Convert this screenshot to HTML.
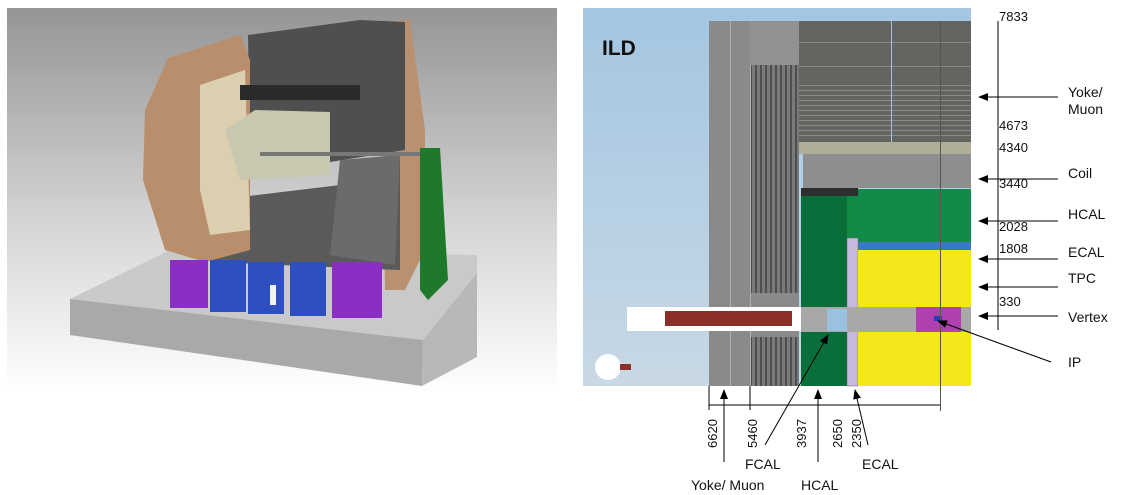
<!DOCTYPE html>
<html><head><meta charset="utf-8"><style>
html,body{margin:0;padding:0;background:#fff;}
svg{display:block;font-family:"Liberation Sans",sans-serif;}
</style></head><body>
<svg width="1121" height="495" viewBox="0 0 1121 495">
<defs>
<linearGradient id="bg" x1="0" y1="0" x2="0" y2="1"><stop offset="0" stop-color="#959595"/><stop offset="0.55" stop-color="#d4d4d4"/><stop offset="1" stop-color="#ffffff"/></linearGradient>
<linearGradient id="sky" x1="0" y1="0" x2="0" y2="1"><stop offset="0" stop-color="#a4c6e2"/><stop offset="1" stop-color="#c8d8e4"/></linearGradient>
<pattern id="vstripe" width="5" height="10" patternUnits="userSpaceOnUse"><rect width="5" height="10" fill="#7a7a7a"/><rect width="2" height="10" fill="#4e4e4e"/></pattern>
<pattern id="hstripe" width="10" height="5" patternUnits="userSpaceOnUse"><rect width="10" height="5" fill="#646461"/><rect width="10" height="1" fill="#8a8a86"/></pattern>
<marker id="ar" markerWidth="10" markerHeight="8" refX="9" refY="4" orient="auto"><path d="M0,0 L10,4 L0,8z" fill="#000"/></marker>
</defs>

<g>
<rect x="7" y="8" width="550" height="385" fill="url(#bg)"/>
<polygon points="70,299 170,250 477,255 477,273 423,340" fill="#c9c9c9"/>
<polygon points="70,299 423,340 422,386 70,335" fill="#a9a9a9"/>
<polygon points="423,340 477,273 477,357 422,386" fill="#b8b8b8"/>
<polygon points="380,22 410,20 425,130 425,250 405,290 385,290" fill="#b99070"/>
<polygon points="248,35 360,20 405,22 405,150 330,162 250,150" fill="#4f4f4f"/>
<polygon points="215,200 340,185 400,160 400,270 210,262" fill="#5a5a5a"/>
<polygon points="340,160 400,155 395,265 330,255" fill="#6b6b6b"/>
<polygon points="168,58 240,35 250,60 250,250 205,262 165,250 143,180 145,110" fill="#b88e6c"/>
<polygon points="200,85 245,70 250,230 210,235 200,190" fill="#dccfb0"/>
<polygon points="225,130 255,110 330,112 330,175 240,180" fill="#c8c8b0"/>
<rect x="240" y="85" width="120" height="15" fill="#2a2a2a"/>
<rect x="260" y="152" width="180" height="4" fill="#777"/>
<polygon points="420,148 440,148 448,280 428,300 420,290" fill="#1e7a2a"/>
<rect x="170" y="260" width="38" height="48" fill="#8a2fc4"/>
<rect x="210" y="260" width="36" height="52" fill="#2d4fc0"/>
<rect x="248" y="262" width="36" height="52" fill="#2d4fc0"/>
<rect x="290" y="262" width="36" height="54" fill="#2d4fc0"/>
<rect x="332" y="262" width="50" height="56" fill="#8a2fc4"/>
<rect x="270" y="285" width="6" height="20" fill="#f2f2f2"/>
</g>

<g>
<rect x="583" y="8" width="388" height="378" fill="url(#sky)"/>
<text x="602" y="55" font-size="21" font-weight="bold" fill="#111">ILD</text>
<rect x="709" y="21" width="90" height="365" fill="#8a8a8a"/>
<rect x="730" y="21" width="1" height="365" fill="#b0b0b0"/><rect x="750" y="21" width="1" height="365" fill="#b0b0b0"/>
<rect x="750" y="21" width="49" height="44" fill="#929292"/>
<rect x="751" y="65" width="48" height="228" fill="url(#vstripe)"/>
<rect x="751" y="337" width="48" height="49" fill="url(#vstripe)"/>
<rect x="799" y="21" width="172" height="121" fill="#646461"/>
<rect x="799" y="82" width="172" height="57" fill="url(#hstripe)"/>
<rect x="799" y="42" width="172" height="1" fill="#8a8a86"/><rect x="799" y="66" width="172" height="1" fill="#8a8a86"/>
<rect x="891" y="21" width="1" height="132" fill="#9cc4e6"/>
<rect x="799" y="142" width="172" height="12" fill="#b0ae98"/>
<rect x="803" y="154" width="168" height="34" fill="#8e8e8e"/>
<rect x="801" y="188" width="57" height="8" fill="#2e2e2e"/>
<rect x="801" y="196" width="46" height="190" fill="#0a6e3a"/>
<rect x="847" y="196" width="11" height="42" fill="#118a45"/>
<rect x="858" y="189" width="113" height="53" fill="#128a48"/>
<rect x="858" y="242" width="113" height="8" fill="#3a78c8"/>
<rect x="847" y="238" width="11" height="148" fill="#c8b8e0" stroke="#666" stroke-width="0.5"/>
<rect x="858" y="250" width="113" height="57" fill="#f4e81a"/>
<rect x="858" y="332" width="113" height="54" fill="#f4e81a"/>
<rect x="627" y="307" width="174" height="24" fill="#ffffff"/>
<rect x="665" y="311" width="127" height="15" fill="#8a3028"/>
<rect x="801" y="307" width="170" height="25" fill="#a8a8a8"/>
<rect x="827" y="309" width="20" height="22" fill="#9cc0e0"/>
<rect x="916" y="307" width="45" height="25" fill="#b040b0"/>
<rect x="934" y="316" width="8" height="5" fill="#2040c0"/>
<rect x="940" y="21" width="1" height="390" fill="#555"/>
<circle cx="608" cy="367" r="13" fill="#fff"/>
<rect x="620" y="364" width="11" height="6" fill="#8a3028"/>

<g stroke="#000" stroke-width="1" fill="none">
<line x1="998" y1="21" x2="998" y2="330"/>
<line x1="709" y1="386" x2="709" y2="410"/><line x1="750" y1="386" x2="750" y2="410"/>
<line x1="709" y1="405" x2="940" y2="405"/>
<line x1="1058" y1="97" x2="979" y2="97" marker-end="url(#ar)"/>
<line x1="1058" y1="179" x2="979" y2="179" marker-end="url(#ar)"/>
<line x1="1058" y1="221" x2="979" y2="221" marker-end="url(#ar)"/>
<line x1="1058" y1="259" x2="979" y2="259" marker-end="url(#ar)"/>
<line x1="1058" y1="287" x2="979" y2="287" marker-end="url(#ar)"/>
<line x1="1058" y1="316" x2="979" y2="316" marker-end="url(#ar)"/>
<line x1="1051" y1="362" x2="938" y2="321" marker-end="url(#ar)"/>
<line x1="724" y1="462" x2="724" y2="390" marker-end="url(#ar)"/>
<line x1="765" y1="445" x2="828" y2="335" marker-end="url(#ar)"/>
<line x1="818" y1="462" x2="818" y2="390" marker-end="url(#ar)"/>
<line x1="868" y1="445" x2="855" y2="390" marker-end="url(#ar)"/>
</g>
<g font-size="14" fill="#111">
<text x="1068" y="97">Yoke/</text>
<text x="1068" y="114">Muon</text>
<text x="1068" y="178">Coil</text>
<text x="1068" y="219">HCAL</text>
<text x="1068" y="257">ECAL</text>
<text x="1068" y="283">TPC</text>
<text x="1068" y="322">Vertex</text>
<text x="1068" y="367">IP</text>
<text x="745" y="469">FCAL</text>
<text x="862" y="469">ECAL</text>
<text x="691" y="490">Yoke/ Muon</text>
<text x="801" y="490">HCAL</text>
</g>
<g font-size="13" fill="#111">
<text x="999" y="21">7833</text><text x="999" y="130">4673</text><text x="999" y="152">4340</text>
<text x="999" y="188">3440</text><text x="999" y="231">2028</text><text x="999" y="253">1808</text><text x="999" y="306">330</text>
</g>
<g font-size="13" fill="#111">
<text transform="translate(717,448) rotate(-90)">6620</text>
<text transform="translate(757,448) rotate(-90)">5460</text>
<text transform="translate(806,448) rotate(-90)">3937</text>
<text transform="translate(842,448) rotate(-90)">2650</text>
<text transform="translate(861,448) rotate(-90)">2350</text>
</g>
</g>
</svg>
</body></html>
